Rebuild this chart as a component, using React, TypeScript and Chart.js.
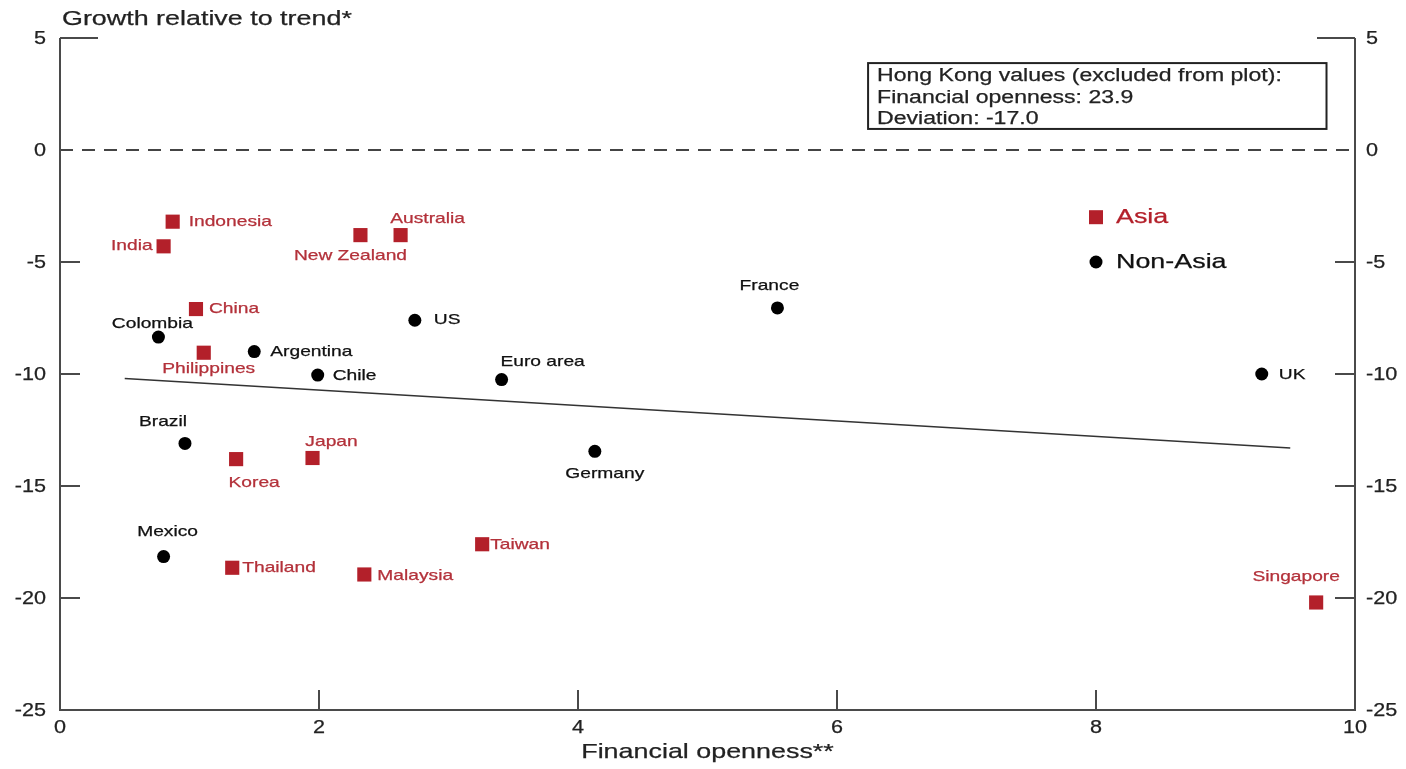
import React, { useEffect, useRef } from "react";
import { Chart, registerables } from "chart.js";

Chart.register(...registerables);

// Asian economies
const asiaNames = ["Indonesia", "India", "New Zealand", "Australia", "China", "Philippines", "Korea", "Japan", "Thailand", "Malaysia", "Taiwan", "Singapore"];
const asiaX = [0.87, 0.8, 2.32, 2.63, 1.05, 1.11, 1.36, 1.95, 1.33, 2.35, 3.26, 9.7];
const asiaY = [-3.2, -4.3, -3.8, -3.8, -7.1, -9.05, -13.8, -13.75, -18.65, -18.95, -17.6, -20.2];

// Other economies
const nonAsiaNames = ["Colombia", "Argentina", "US", "Chile", "Euro area", "France", "UK", "Brazil", "Germany", "Mexico"];
const nonAsiaX = [0.76, 1.5, 2.74, 1.99, 3.41, 5.54, 9.28, 0.965, 4.13, 0.8];
const nonAsiaY = [-8.35, -9.0, -7.6, -10.05, -10.25, -7.05, -10.0, -13.1, -13.45, -18.15];

// Fitted trend line end points
const trendX = [0.5, 9.5];
const trendY = [-10.2, -13.3];

// Axis ticks
const xTicks = [0, 2, 4, 6, 8, 10];
const yTicks = [5, 0, -5, -10, -15, -20, -25];

const hkLines = ["Hong Kong values (excluded from plot):", "Financial openness: 23.9", "Deviation: -17.0"];

// Label placement: [alignment, dx, dy] in pixels from the marker
type Place = [CanvasTextAlign, number, number];
const asiaPlace: Place[] = [
  ["left", 16, 0], ["right", -11, 0], ["center", -10, 21], ["center", 27, -16],
  ["left", 13, 0], ["center", 5, 16], ["center", 18, 24], ["center", 19, -16],
  ["left", 10, 0], ["left", 13, 1], ["left", 8, 1], ["center", -20, -26],
];
const nonAsiaPlace: Place[] = [
  ["center", -6, -13], ["left", 16, 0], ["left", 19, 0], ["left", 15, 1],
  ["center", 41, -18], ["center", -8, -22], ["left", 17, 1], ["center", -22, -22],
  ["center", 10, 23], ["center", 4, -25],
];

const RED = "#b3202a";
const LABEL_RED = "#b3313a";
const AXIS = "#4a4a4a";
const FONT = "'Liberation Sans', Arial, sans-serif";

// text is set slightly wide and a touch heavy
function wideText(
  ctx: CanvasRenderingContext2D,
  text: string,
  x: number,
  y: number,
  align: CanvasTextAlign,
  stretch = 1.28
) {
  ctx.save();
  ctx.translate(x, y);
  ctx.scale(stretch, 1);
  ctx.textAlign = align;
  ctx.textBaseline = "middle";
  ctx.strokeStyle = ctx.fillStyle as string;
  ctx.lineWidth = 0.25;
  ctx.fillText(text, 0, 0);
  ctx.strokeText(text, 0, 0);
  ctx.restore();
}

const decorPlugin = {
  id: "decor",
  beforeDatasetsDraw(chart: any) {
    const { ctx, chartArea: ca, scales } = chart;
    const ys = scales.y;
    ctx.save();
    // zero line
    ctx.strokeStyle = "#444";
    ctx.lineWidth = 2;
    ctx.setLineDash([13, 9]);
    const y0 = ys.getPixelForValue(0);
    ctx.beginPath();
    ctx.moveTo(ca.left, y0);
    ctx.lineTo(ca.right, y0);
    ctx.stroke();
    ctx.setLineDash([]);
    ctx.restore();
  },
  afterDatasetsDraw(chart: any) {
    const { ctx, chartArea: ca, scales } = chart;
    const xs = scales.x;
    const ys = scales.y;
    ctx.save();

    // axes frame (left, bottom, right)
    ctx.strokeStyle = AXIS;
    ctx.lineWidth = 2;
    ctx.beginPath();
    ctx.moveTo(ca.left, ca.top);
    ctx.lineTo(ca.left, ca.bottom);
    ctx.lineTo(ca.right, ca.bottom);
    ctx.lineTo(ca.right, ca.top);
    ctx.stroke();

    // inward ticks
    ctx.beginPath();
    yTicks.forEach((v) => {
      if (v === -25 || v === 0) return;
      const py = ys.getPixelForValue(v);
      const len = v === 5 ? 38 : 20;
      ctx.moveTo(ca.left, py);
      ctx.lineTo(ca.left + len, py);
      ctx.moveTo(ca.right, py);
      ctx.lineTo(ca.right - len, py);
    });
    xTicks.forEach((v) => {
      if (v === 0 || v === 10) return;
      const px = xs.getPixelForValue(v);
      ctx.moveTo(px, ca.bottom);
      ctx.lineTo(px, ca.bottom - 20);
    });
    ctx.stroke();

    // tick labels
    ctx.fillStyle = "#222";
    ctx.font = `18px ${FONT}`;
    yTicks.forEach((v) => {
      const py = ys.getPixelForValue(v) + 1;
      wideText(ctx, String(v), ca.left - 14, py, "right", 1.2);
      wideText(ctx, String(v), ca.right + 11, py, "left", 1.2);
    });
    xTicks.forEach((v) => {
      wideText(ctx, String(v), xs.getPixelForValue(v), ca.bottom + 18, "center", 1.2);
    });

    // axis titles
    ctx.font = `21px ${FONT}`;
    wideText(ctx, "Growth relative to trend*", ca.left + 2, 19, "left");
    wideText(ctx, "Financial openness**", (ca.left + ca.right) / 2, ca.bottom + 42, "center");

    // data labels
    ctx.font = `15px ${FONT}`;
    const drawLabels = (idx: number, names: string[], place: Place[], color: string) => {
      const meta = chart.getDatasetMeta(idx);
      ctx.fillStyle = color;
      meta.data.forEach((el: any, i: number) => {
        const [align, dx, dy] = place[i];
        wideText(ctx, names[i], el.x + dx, el.y + dy, align);
      });
    };
    drawLabels(0, asiaNames, asiaPlace, LABEL_RED);
    drawLabels(1, nonAsiaNames, nonAsiaPlace, "#111");

    // legend
    const lx = xs.getPixelForValue(8);
    const la = ys.getPixelForValue(-3);
    const ln = ys.getPixelForValue(-5);
    ctx.fillStyle = RED;
    ctx.fillRect(lx - 7, la - 7, 14, 14);
    ctx.fillStyle = "#000";
    ctx.beginPath();
    ctx.arc(lx, ln, 6.5, 0, Math.PI * 2);
    ctx.fill();
    ctx.font = `21px ${FONT}`;
    ctx.fillStyle = RED;
    wideText(ctx, "Asia", lx + 20, la, "left");
    ctx.fillStyle = "#111";
    wideText(ctx, "Non-Asia", lx + 20, ln, "left");

    // note box
    const bx1 = xs.getPixelForValue(6.24);
    const bx2 = xs.getPixelForValue(9.78);
    const by1 = ys.getPixelForValue(3.88);
    const by2 = ys.getPixelForValue(0.94);
    ctx.strokeStyle = "#222";
    ctx.lineWidth = 2;
    ctx.strokeRect(bx1, by1, bx2 - bx1, by2 - by1);
    ctx.font = `18px ${FONT}`;
    ctx.fillStyle = "#222";
    hkLines.forEach((t, i) => {
      wideText(ctx, t, bx1 + 9, by1 + 13 + i * 21.5, "left");
    });

    ctx.restore();
  },
};

export default function App() {
  const ref = useRef<HTMLCanvasElement>(null);

  useEffect(() => {
    if (!ref.current) return;
    const chart = new Chart(ref.current, {
      type: "scatter",
      data: {
        datasets: [
          {
            label: "Asia",
            data: asiaX.map((x, i) => ({ x, y: asiaY[i] })),
            pointStyle: "rect",
            pointRadius: 10,
            backgroundColor: RED,
            borderWidth: 0,
          },
          {
            label: "Non-Asia",
            data: nonAsiaX.map((x, i) => ({ x, y: nonAsiaY[i] })),
            pointStyle: "circle",
            pointRadius: 6.5,
            backgroundColor: "#000",
            borderWidth: 0,
          },
          {
            type: "line",
            label: "Trend",
            data: trendX.map((x, i) => ({ x, y: trendY[i] })),
            borderColor: "#333",
            borderWidth: 1.5,
            pointRadius: 0,
            fill: false,
          },
        ],
      },
      options: {
        animation: false,
        responsive: true,
        maintainAspectRatio: false,
        layout: { padding: { left: 60, right: 51, top: 38, bottom: 59 } },
        plugins: { legend: { display: false }, tooltip: { enabled: false } },
        scales: {
          x: { type: "linear", min: 0, max: 10, display: false },
          y: { type: "linear", min: -25, max: 5, display: false },
        },
      },
      plugins: [decorPlugin],
    });
    return () => chart.destroy();
  }, []);

  return (
    <div style={{ position: "fixed", left: 0, top: 0, width: 1406, height: 769, background: "#fff" }}>
      <canvas ref={ref} />
    </div>
  );
}
